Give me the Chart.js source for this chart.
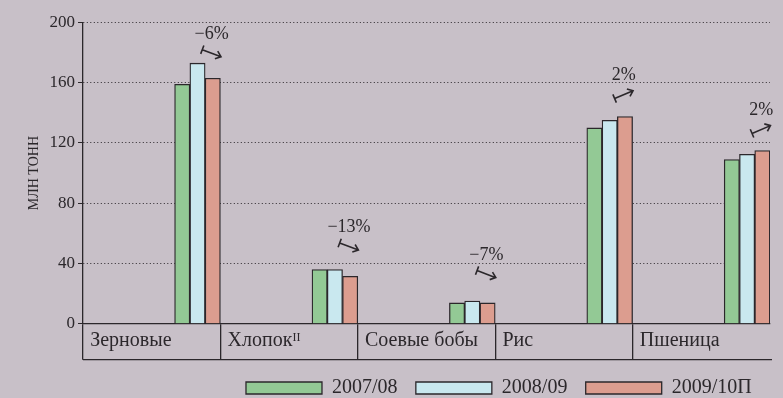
<!DOCTYPE html>
<html lang="ru">
<head>
<meta charset="UTF-8">
<title>Производство культур, млн тонн</title>
<script src="https://cdn.jsdelivr.net/npm/chart.js"></script>
<style>
  html, body { margin: 0; padding: 0; background: #c8c0c8; }
  #wrap { width: 783px; height: 398px; }
</style>
</head>
<body>
<div id="wrap"><canvas id="cropChart" width="783" height="398"></canvas></div>
<script>
// data
const categories = ['Зерновые', 'Хлопок\u1D35\u1D35', 'Соевые бобы', 'Рис', 'Пшеница'];
const seasons = ['2007/08', '2008/09', '2009/10П'];
const crop0708 = [159, 36, 13.8, 130, 109];
const crop0809 = [173, 36, 15, 135, 112.5];
const crop0910 = [163, 31.5, 13.8, 137.5, 115];
const changePct = [-6, -13, -7, 2, 2];
const yTicks = [0, 40, 80, 120, 160, 200];

// how far (px) each change note sits above its bars
const noteRise = [10, 23, 27, 22, 21];

const ink = '#2b272b';
const serif = '"Liberation Serif", "DejaVu Serif", serif';
const fills = ['#93c995', '#c9e8ef', '#dc9d8f'];

// six empty datasets push the three real bars to the right side of each category
const spacers = [];
for (let i = 0; i < 6; i++) {
    spacers.push({ label: '', data: categories.map(() => null) });
}
const realSets = [crop0708, crop0809, crop0910].map((vals, i) => ({
    label: seasons[i],
    data: vals,
    backgroundColor: fills[i],
    borderColor: ink,
    borderWidth: 1.3,
    borderSkipped: 'bottom'
}));

const changeNotes = {
    id: 'changeNotes',
    afterDatasetsDraw(chart) {
        const ctx = chart.ctx;
        const n = chart.data.datasets.length;
        const metas = [n - 3, n - 2, n - 1].map(i => chart.getDatasetMeta(i));
        ctx.save();
        ctx.strokeStyle = ink;
        ctx.fillStyle = ink;
        ctx.lineWidth = 1.6;
        ctx.font = '18px ' + serif;
        ctx.textAlign = 'center';
        ctx.textBaseline = 'middle';
        changePct.forEach((pct, i) => {
            const bars = metas.map(m => m.data[i]);
            const red = bars[2];
            const top = Math.min(...bars.map(b => b.y));
            const x0 = red.x - red.width / 2 - 3;
            const cx = x0 + 9.5;
            const cy = top - noteRise[i];
            const ang = pct < 0 ? 0.36 : -0.4;
            const len = 20;
            ctx.save();
            ctx.translate(cx, cy);
            ctx.rotate(ang);
            ctx.beginPath();
            ctx.moveTo(-len / 2, -4.5);
            ctx.lineTo(-len / 2, 4.5);
            ctx.moveTo(-len / 2, 0);
            ctx.lineTo(len / 2, 0);
            ctx.moveTo(len / 2 - 5, -4);
            ctx.lineTo(len / 2, 0);
            ctx.lineTo(len / 2 - 5, 4);
            ctx.stroke();
            ctx.restore();
            const txt = (pct < 0 ? '\u2212' + Math.abs(pct) : pct) + '%';
            ctx.fillText(txt, cx, cy - 19);
        });
        ctx.restore();
    }
};

// bottom edge of the category label boxes
const labelBox = {
    id: 'labelBox',
    afterDraw(chart) {
        const x = chart.scales.x;
        const ctx = chart.ctx;
        const y = x.bottom;
        ctx.save();
        ctx.strokeStyle = ink;
        ctx.lineWidth = 1.3;
        ctx.beginPath();
        ctx.moveTo(x.left, y);
        ctx.lineTo(x.right + 2, y);
        ctx.stroke();
        ctx.restore();
    }
};

new Chart(document.getElementById('cropChart'), {
    type: 'bar',
    data: {
        labels: categories,
        datasets: spacers.concat(realSets)
    },
    options: {
        responsive: false,
        animation: false,
        categoryPercentage: 1,
        barPercentage: 1,
        layout: { padding: { left: 5, right: 13, top: 22.5, bottom: -10 } },
        plugins: {
            tooltip: { enabled: false },
            legend: {
                position: 'bottom',
                align: 'end',
                labels: {
                    boxWidth: 76,
                    boxHeight: 12,
                    padding: 18.3,
                    color: ink,
                    font: { family: serif, size: 20 },
                    filter: item => item.text !== ''
                }
            }
        },
        scales: {
            x: {
                offset: true,
                afterFit: s => { s.height = 36; },
                grid: {
                    offset: true,
                    drawOnChartArea: false,
                    drawTicks: true,
                    tickLength: 36,
                    lineWidth: 1.3,
                    color: c => c.type === 'tick' ? ink : 'rgba(0,0,0,0)',
                    tickColor: c => c.type === 'tick' ? ink : 'rgba(0,0,0,0)'
                },
                border: { display: true, color: ink, width: 1.3 },
                ticks: {
                    align: 'start',
                    autoSkip: false,
                    maxRotation: 0,
                    labelOffset: -61.5,
                    padding: -31,
                    color: ink,
                    font: { family: serif, size: 20 }
                }
            },
            y: {
                min: 0,
                max: 200,
                afterBuildTicks: s => { s.ticks = yTicks.map(v => ({ value: v })); },
                afterFit: s => { s.width = 78; },
                grid: {
                    color: ink,
                    lineWidth: 1,
                    tickLength: 5,
                    tickColor: ink,
                    tickBorderDash: []
                },
                border: { display: true, color: ink, width: 1.3, dash: [1, 2.5] },
                ticks: {
                    padding: 3,
                    color: ink,
                    font: { family: serif, size: 17 }
                },
                title: {
                    display: true,
                    text: 'МЛН ТОНН',
                    color: ink,
                    padding: { top: 21, bottom: 0 },
                    font: { family: serif, size: 14 }
                }
            }
        }
    },
    plugins: [changeNotes, labelBox]
});
</script>
</body>
</html>
